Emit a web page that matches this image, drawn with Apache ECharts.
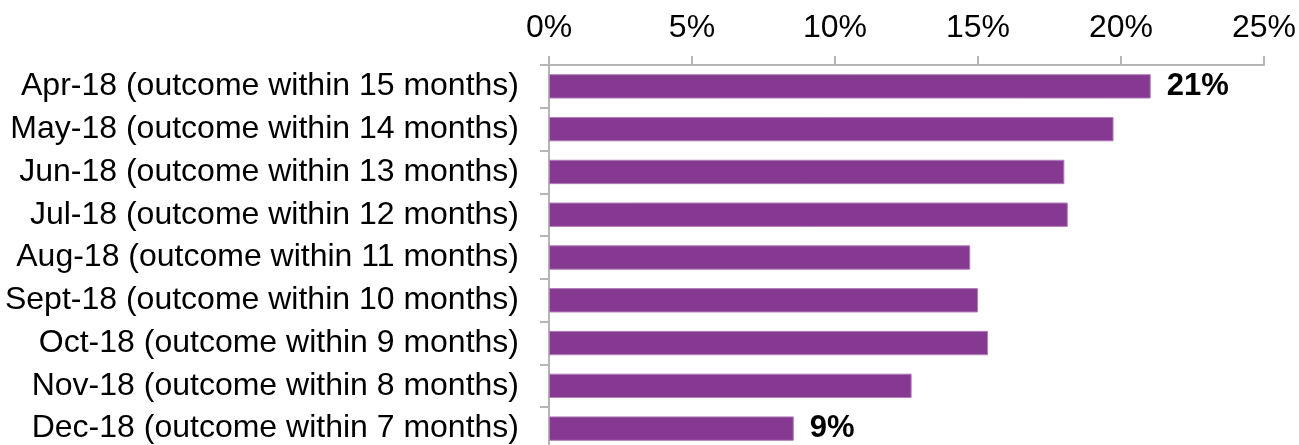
<!DOCTYPE html>
<html>
<head>
<meta charset="utf-8">
<script src="https://cdn.jsdelivr.net/npm/echarts@6/dist/echarts.min.js"></script>
<style>html,body{margin:0;padding:0;background:#fff;overflow:hidden}#c{width:1299px;height:460px}</style>
</head>
<body>
<div id="c"></div>
<script>
const categories = [
  "Apr-18 (outcome within 15 months)",
  "May-18 (outcome within 14 months)",
  "Jun-18 (outcome within 13 months)",
  "Jul-18 (outcome within 12 months)",
  "Aug-18 (outcome within 11 months)",
  "Sept-18 (outcome within 10 months)",
  "Oct-18 (outcome within 9 months)",
  "Nov-18 (outcome within 8 months)",
  "Dec-18 (outcome within 7 months)"
];
const values = [21.04, 19.74, 18.02, 18.14, 14.73, 15.0, 15.35, 12.68, 8.56];
const labelledIndexes = [0, 8];
const xTicks = [0, 5, 10, 15, 20, 25];

const FONT = "'Liberation Sans', Arial, sans-serif";
const chart = echarts.init(document.getElementById('c'), null, {renderer: 'canvas'});
chart.setOption({
  animation: false,
  grid: {left: 549, top: 65, width: 715, height: 385, containLabel: false},
  xAxis: {
    type: 'value', position: 'top', min: xTicks[0], max: xTicks[xTicks.length - 1], interval: 5,
    axisLine: {show: true, lineStyle: {color: '#b5b5b5', width: 2}},
    axisTick: {show: true, length: 9, lineStyle: {color: '#b5b5b5', width: 2}},
    splitLine: {show: false},
    axisLabel: {formatter: v => v + '%', fontFamily: FONT, fontSize: 32, color: '#000', margin: 21}
  },
  yAxis: {
    type: 'category', data: categories, inverse: true, boundaryGap: true,
    axisLine: {show: true, lineStyle: {color: '#b5b5b5', width: 2}},
    axisTick: {show: true, length: 9, lineStyle: {color: '#b5b5b5', width: 2}},
    axisLabel: {fontFamily: FONT, fontSize: 32, color: '#000', margin: 30}
  },
  series: [{
    type: 'bar',
    barWidth: '57%',
    data: values.map((v, i) => ({
      value: v,
      label: {show: labelledIndexes.includes(i)}
    })),
    itemStyle: {color: '#853990', borderColor: '#b27fba', borderWidth: 1},
    label: {
      position: 'right', distance: 16, fontFamily: FONT, fontSize: 31, fontWeight: 'bold', color: '#000',
      formatter: p => Math.round(p.value) + '%'
    }
  }]
});
</script>
</body>
</html>
